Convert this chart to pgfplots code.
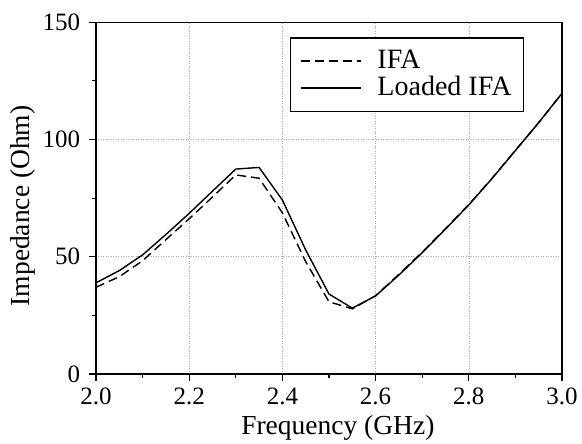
\documentclass[border=0pt]{standalone}
\usepackage{pgfplots}
\pgfplotsset{compat=1.18}
\usepackage{fontspec}
\setmainfont{Liberation Serif}
\begin{document}
\fontsize{26bp}{31bp}\selectfont
\begin{tikzpicture}
\begin{axis}[
  scale only axis,
  width=466bp, height=351.7bp,
  xmin=2.0, xmax=3.0, ymin=0, ymax=150,
  xtick={2.0,2.2,2.4,2.6,2.8,3.0},
  ytick={0,50,100,150},
  minor x tick num=1,
  minor y tick num=1,
  tick align=outside,
  major tick length=7bp,
  minor tick length=4bp,
  tick style={black, line width=1.1bp},
  axis line style={line width=1.3bp},
  xtick pos=bottom, ytick pos=left,
  grid=major,
  major grid style={gray!70, line width=0.6bp, dash pattern=on 1bp off 1.5bp},
  /pgf/number format/assume math mode=true,
  xticklabel style={/pgf/number format/fixed, /pgf/number format/fixed zerofill, /pgf/number format/precision=1, font=\fontsize{25bp}{30bp}\selectfont, yshift=2bp},
  yticklabel style={font=\fontsize{25bp}{30bp}\selectfont},
  xlabel={Frequency (GHz)},
  ylabel={Impedance (Ohm)},
  label style={font=\fontsize{27.5bp}{33bp}\selectfont},
  xlabel style={at={(axis description cs:0.519,-0.1535)}, anchor=center},
  ylabel style={at={(axis description cs:-0.157,0.478)}, anchor=center},
  legend cell align=left,
  legend style={at={(0.9185,0.957)}, anchor=north east, draw=black, line width=1.1bp,
    font=\fontsize{28bp}{33bp}\selectfont, inner xsep=10bp, inner ysep=10bp,
    row sep=0bp},
  legend image code/.code={\draw[#1] (0bp,0bp) -- (60bp,0bp); \path (74bp,0bp);},
]
\addplot[black, line width=1.4bp, dash pattern=on 9bp off 5bp] coordinates {
(2.00,37.0) (2.05,41.5) (2.10,48.3) (2.15,57.3) (2.20,66.2) (2.25,75.5)
(2.30,84.9) (2.35,83.5) (2.40,68.7) (2.45,47.9) (2.50,30.8) (2.55,27.8)
(2.60,33.4) (2.65,42.5) (2.70,52.0) (2.75,62.0) (2.80,72.3) (2.85,83.5)
(2.90,95.4) (2.95,107.2) (3.00,119.7)
};
\addlegendentry{IFA}
\addplot[black, line width=1.4bp] coordinates {
(2.00,38.9) (2.05,44.1) (2.10,50.8) (2.15,59.5) (2.20,68.5) (2.25,78.0)
(2.30,87.4) (2.35,88.1) (2.40,74.2) (2.45,52.9) (2.50,34.1) (2.55,28.1)
(2.60,33.3) (2.65,42.2) (2.70,51.7) (2.75,61.8) (2.80,72.1) (2.85,83.4)
(2.90,95.3) (2.95,107.2) (3.00,119.7)
};
\addlegendentry{Loaded IFA}
\end{axis}
\pgfresetboundingbox
\path[use as bounding box] (-96bp,-70bp) rectangle (486bp,374bp);
\end{tikzpicture}
\end{document}
